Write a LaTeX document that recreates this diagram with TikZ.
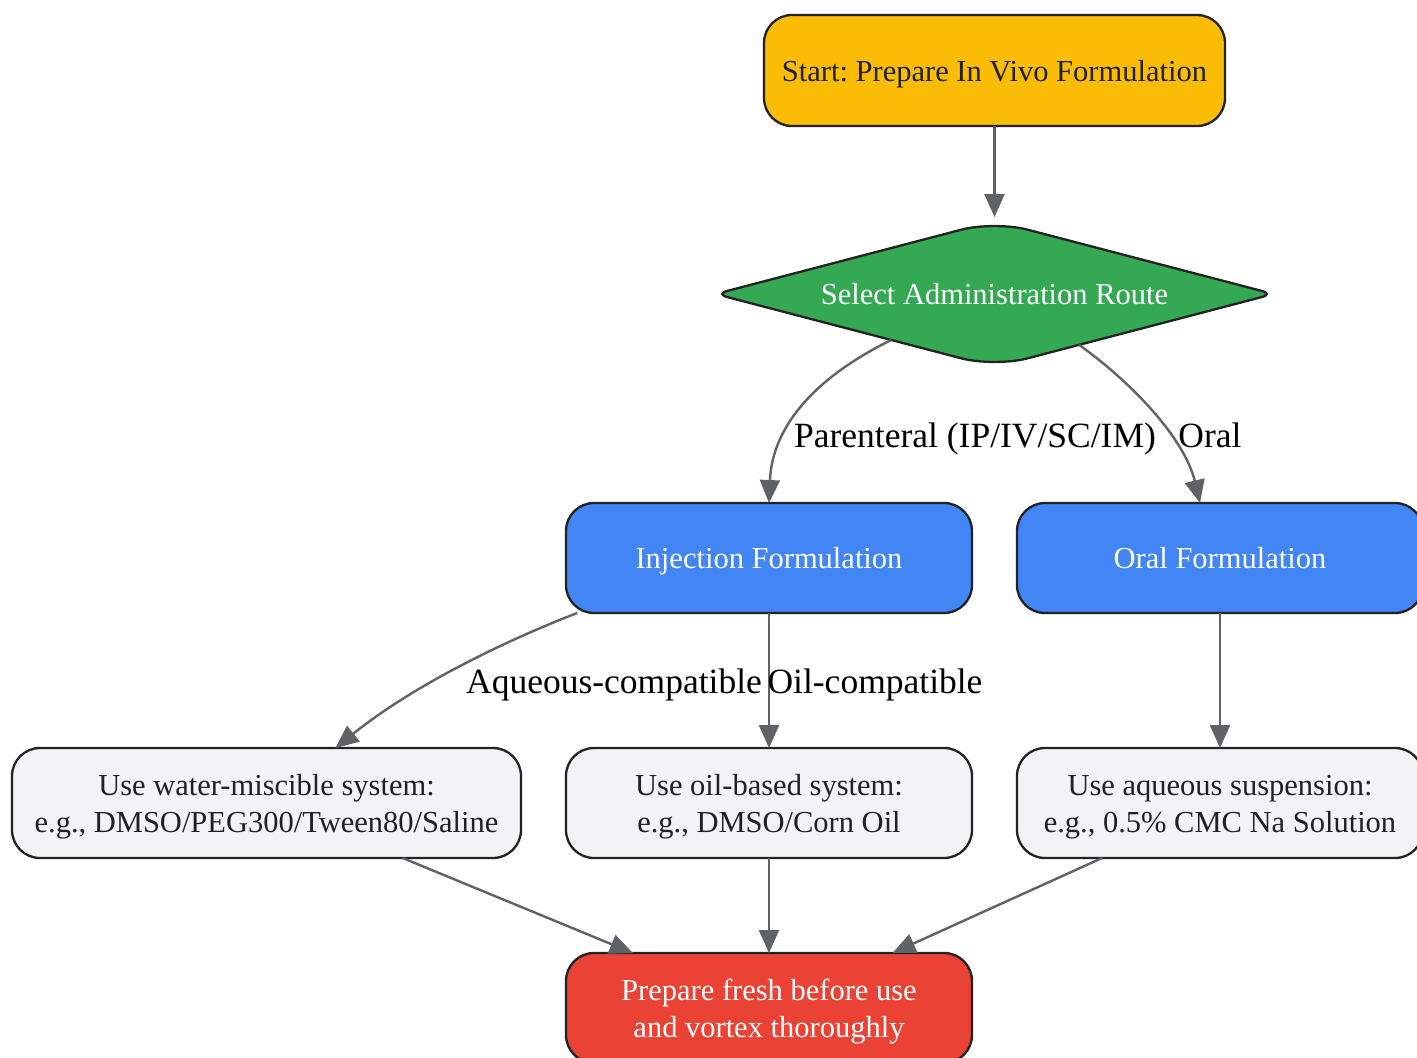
\documentclass[tikz,border=0pt]{standalone}
\usepackage{fontspec}
\setmainfont{Liberation Serif}
\usetikzlibrary{shapes.geometric,arrows.meta,calc,backgrounds}
\definecolor{cyellow}{HTML}{FBBC05}
\definecolor{cgreen}{HTML}{34A853}
\definecolor{cblue}{HTML}{4285F4}
\definecolor{cred}{HTML}{EA4335}
\definecolor{cgray}{HTML}{F1F3F4}
\definecolor{cdark}{HTML}{202124}
\definecolor{cborder}{HTML}{222222}
\definecolor{cedge}{HTML}{5F6368}
\newcommand{\nodefont}{\fontsize{30.5pt}{37pt}\selectfont}
\newcommand{\labfont}{\fontsize{35.5pt}{42pt}\selectfont}
\newcommand{\twoln}[2]{\begin{tabular}[t]{@{}c@{}}#1\\#2\end{tabular}}
\frenchspacing
\begin{document}
\begin{tikzpicture}[x=1pt,y=1pt,
  box/.style={rectangle, rounded corners=28pt, draw=cborder, line width=2.3pt,
    minimum width=406pt, minimum height=110pt, inner sep=0pt, outer sep=0pt,
    font=\nodefont, text height=26pt, text depth=5pt},
  twobox/.style={box, text depth=42pt},
  edge/.style={draw=cedge, line width=2.4pt, -{Triangle[length=23pt,width=20pt]}},
  elabel/.style={font=\labfont, text=black, inner sep=0pt, anchor=base}]
\useasboundingbox (0,0) rectangle (1417,-1058);

\node[box, fill=cyellow, text=cdark, minimum width=461pt, minimum height=111pt] (start) at (994.5,-70.5) {Start: Prepare In Vivo Formulation};
\node[diamond, aspect=3.8, minimum width=558pt, minimum height=146pt, inner sep=0pt, outer sep=0pt,
  font=\nodefont, text=white, text height=26pt, text depth=5pt] (dia) at (994.5,-294) {Select Administration Route};
\node[box, fill=cblue, text=white] (inj) at (769,-558) {Injection Formulation};
\node[box, fill=cblue, text=white] (oral) at (1220,-558) {Oral Formulation};
\node[twobox, fill=cgray, text=cdark, minimum width=509pt] (water) at (266.5,-803) {\twoln{Use water-miscible system:}{e.g., DMSO/PEG300/Tween80/Saline}};
\node[twobox, fill=cgray, text=cdark] (oil) at (769,-803) {\twoln{Use oil-based system:}{e.g., DMSO/Corn Oil}};
\node[twobox, fill=cgray, text=cdark] (aq) at (1220,-803) {\twoln{Use aqueous suspension:}{e.g., 0.5\% CMC Na Solution}};
\node[twobox, fill=cred, text=white] (final) at (769,-1008) {\twoln{Prepare fresh before use}{and vortex thoroughly}};

\begin{scope}[on background layer]
  \fill[white] (0,0) rectangle (1417,-1058);
  \filldraw[fill=cgreen, draw=cborder, line width=2.3pt]
    ($(dia.west)!0.5!(dia.north)$) [rounded corners=34pt] -- (dia.north)
    [rounded corners=12pt] -- (dia.east)
    [rounded corners=34pt] -- (dia.south)
    [rounded corners=12pt] -- (dia.west)
    [rounded corners=34pt] -- cycle;
\end{scope}

\draw[edge, shorten >=4pt] (start) -- (dia.north);
\draw[edge] (dia.-156) .. controls (810,-380) and (772,-430) .. (inj.north);
\draw[edge] (dia.-31) .. controls (1135,-385) and (1185,-440) .. ($(oral.north)+(-20,0)$);
\draw[edge] (inj.-164) .. controls (520,-635) and (420,-680) .. ($(water.north)+(69,0)$);
\draw[edge] (inj) -- (oil);
\draw[edge] (oral) -- (aq);
\draw[edge] (water.-22) -- (final.158);
\draw[edge] (oil) -- (final);
\draw[edge] (aq.-155) -- (final.24);

\node[elabel] (lpar) at (975,-447) {Parenteral (IP/IV/SC/IM)};
\node[elabel] (loral) at (1210,-447) {Oral};
\node[elabel] (laq) at (614,-693) {Aqueous-compatible};
\node[elabel] (loil) at (875,-693) {Oil-compatible};
\end{tikzpicture}
\end{document}
